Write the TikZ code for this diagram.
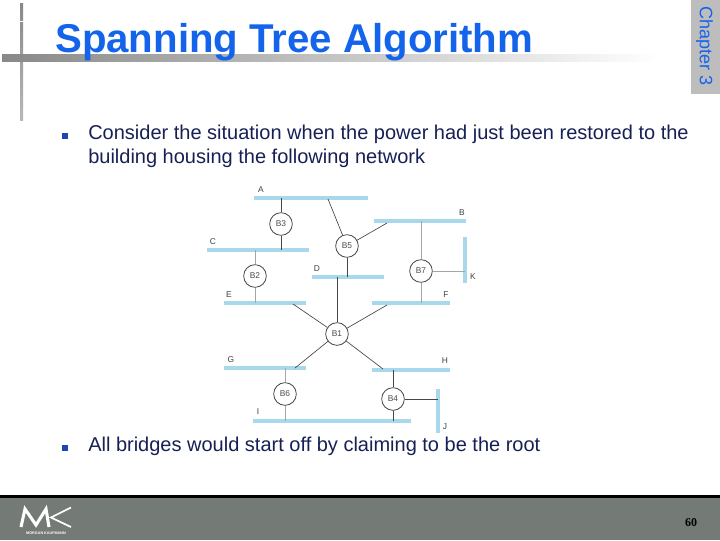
\documentclass[tikz,border=0pt]{standalone}
\usepackage{fontspec}
\setmainfont{Liberation Sans}
\newfontfamily\numfont{Liberation Serif}
\usetikzlibrary{calc}
\definecolor{titleblue}{RGB}{20,100,235}
\definecolor{bodynavy}{RGB}{22,32,84}
\definecolor{bulletblue}{RGB}{30,70,180}
\definecolor{lanblue}{RGB}{168,216,236}
\definecolor{footgrey}{RGB}{116,122,117}
\definecolor{tabgrey}{RGB}{189,189,189}
\definecolor{rulegrey}{RGB}{136,136,136}
\definecolor{wiregrey}{RGB}{165,165,165}
\definecolor{wiredark}{RGB}{70,70,70}
\tikzset{
  lanh/.style={fill=lanblue, inner sep=0pt, minimum height=2.7pt, minimum width=#1},
  lanv/.style={fill=lanblue, inner sep=0pt, minimum width=2.7pt, minimum height=#1},
  bridge/.style={circle, draw=wiredark, fill=white, line width=0.6pt, inner sep=0pt, minimum size=17pt, font=\fontsize{6.3}{7}\selectfont, text=black!70},
  lanlabel/.style={inner sep=0pt, font=\fontsize{6.3}{7}\selectfont, text=black!75},
  wire/.style={draw=wiredark, line width=0.5pt},
  pale/.style={draw=wiregrey, line width=0.5pt},
  bodyline/.style={anchor=base west, inner sep=0pt, font=\fontsize{15}{18}\selectfont, text=bodynavy},
  bulletmark/.style={fill=bulletblue, inner sep=0pt, minimum size=3.9pt}
}
\begin{document}
\begin{tikzpicture}[x=0.75pt, y=-0.75pt]
\useasboundingbox (0,0) rectangle (720,540);
% frame of the slide
\fill[tabgrey] (691,0) rectangle (720,94);
\node[rotate=-90, inner sep=0pt, text=titleblue, font=\fontsize{13.5}{16}\selectfont] (chapter) at (704.5,46) {Chapter 3};
\fill[top color=rulegrey, bottom color=rulegrey!60] (20,3) rectangle (23,120);
\fill[white] (19,21) rectangle (24,22);
\fill[left color=rulegrey, right color=white] (2,54) rectangle (660,61);
\node[anchor=base west, inner sep=0pt, text=titleblue, font=\fontsize{30.15}{34}\bfseries\selectfont] (title) at (55,52) {Spanning Tree Algorithm};
% text
\node[bulletmark] (bulletone) at (65,136) {};
\node[bodyline] (lineone) at (88,139) {Consider the situation when the power had just been restored to the};
\node[bodyline] (linetwo) at (88,163) {building housing the following network};
\node[bulletmark] (bullettwo) at (65,448) {};
\node[bodyline] (linethree) at (88,451) {All bridges would start off by claiming to be the root};
% the lans
\node[lanh=85.5pt] (lanA) at (311,198) {};
\node[lanh=76.5pt] (lanC) at (258,250) {};
\node[lanh=61.5pt] (lanE) at (265,303) {};
\node[lanh=54pt] (lanD) at (348,277) {};
\node[lanh=69pt] (lanB) at (420,221) {};
\node[lanh=59pt] (lanF) at (411,303) {};
\node[lanh=61.5pt] (lanG) at (265,368) {};
\node[lanh=59pt] (lanH) at (411,370) {};
\node[lanh=118pt] (lanI) at (332,421) {};
\node[lanv=34.5pt] (lanK) at (465,260) {};
\node[lanv=33pt] (lanJ) at (438,411) {};
% the bridges
\node[bridge] (B3) at (281,224) {B3};
\node[bridge] (B2) at (255,276) {B2};
\node[bridge] (B5) at (347,246) {B5};
\node[bridge] (B7) at (421,271) {B7};
\node[bridge] (B1) at (337,334) {B1};
\node[bridge] (B6) at (285,394) {B6};
\node[bridge] (B4) at (393,399) {B4};
% feet of the slanted wires
\coordinate (footA) at (328,199);
\coordinate (footB) at (387,223);
\coordinate (footE) at (293,304);
\coordinate (footF) at (387,305);
\coordinate (footG) at (295,368);
\coordinate (footH) at (383,369);
% the wires
\draw[wire] (B3) -- (B3 |- lanA);
\draw[wire] (B3) -- (B3 |- lanC);
\draw[pale] (B2) -- (B2 |- lanC);
\draw[pale] (B2) -- (B2 |- lanE);
\draw[wire] (B5) -- (footA);
\draw[wire] (B5) -- (footB);
\draw[wire] (B5) -- (B5 |- lanD);
\draw[wire] (B1) -- (B1 |- lanD);
\draw[pale] (B7) -- (B7 |- lanB);
\draw[pale] (B7) -- (B7 |- lanF);
\draw[pale] (B7) -- (B7 -| lanK);
\draw[wire] (B1) -- (footE);
\draw[wire] (B1) -- (footF);
\draw[wire] (B1) -- (footG);
\draw[wire] (B1) -- (footH);
\draw[pale] (B6) -- (B6 |- lanG);
\draw[pale] (B6) -- (B6 |- lanI);
\draw[wire] (B4) -- (B4 |- lanH);
\draw[wire] (B4) -- (B4 |- lanI);
\draw[wire] (B4) -- (B4 -| lanJ);
% the labels
\node[lanlabel] (labelA) at (261,190) {A};
\node[lanlabel] (labelC) at (213,242) {C};
\node[lanlabel] (labelD) at (317,269) {D};
\node[lanlabel] (labelE) at (229,295) {E};
\node[lanlabel] (labelB) at (462,213) {B};
\node[lanlabel] (labelK) at (473,277) {K};
\node[lanlabel] (labelF) at (446,295) {F};
\node[lanlabel] (labelG) at (231,360) {G};
\node[lanlabel] (labelH) at (445,361) {H};
\node[lanlabel] (labelI) at (258,412) {I};
\node[lanlabel] (labelJ) at (445,427) {J};
% footer
\fill[footgrey] (0,497) rectangle (720,540);
\draw[black, line width=1.9pt] (0,496.5) -- (720,496.5);
\draw[white, line width=2.3pt, miter limit=3] (21,527) -- (25,509) -- (36,525) -- (46,509) -- (49,527);
\draw[white, line width=1.3pt] (71,507.5) -- (51,517.5) -- (71,527);
\node[inner sep=0pt, text=white, font=\fontsize{2.8}{3}\bfseries\selectfont] (logotext) at (46,533.5) {MORGAN KAUFMANN};
\node[inner sep=0pt, font=\fontsize{9}{10}\bfseries\numfont] (pagenum) at (691,522.5) {60};
\end{tikzpicture}
\end{document}
